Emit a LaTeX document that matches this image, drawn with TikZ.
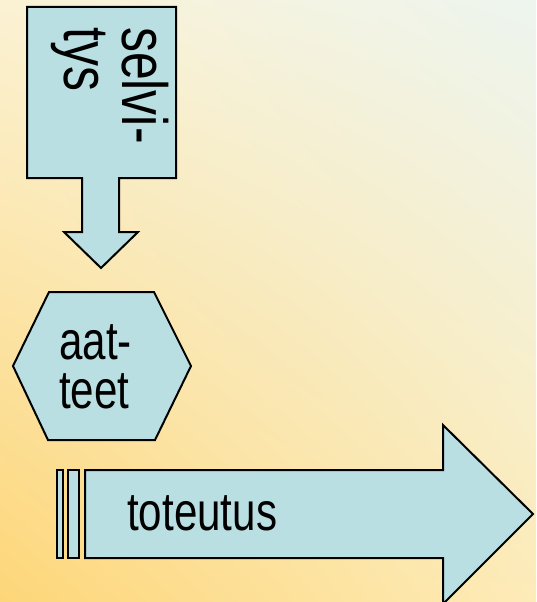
\documentclass[tikz,border=0pt]{standalone}
\usepackage{fontspec}
\newfontfamily\narrowsans[FakeStretch=0.78]{Liberation Sans}
\usetikzlibrary{positioning,shadings}
\definecolor{piecefill}{HTML}{B9DFE3}
\definecolor{cream}{HTML}{FBF2D4}
\definecolor{paleback}{HTML}{EDF5EF}
\definecolor{orangeback}{HTML}{FDD678}
\definecolor{lightorange}{HTML}{FDEBB8}

\begin{document}
\begin{tikzpicture}[
  x=1pt, y=-1pt,
  piece/.style={draw=black, line width=2pt, fill=piecefill, line join=miter},
  caption/.style={font=\narrowsans, inner sep=0pt, align=left}
]

\useasboundingbox (0,0) rectangle (536,602);
\shade[upper left=cream, upper right=paleback, lower left=orangeback, lower right=lightorange]
  (0,0) rectangle (536,602);

\draw[piece] (27,7) -- (176,7) -- (176,178) -- (119,178) -- (119,232) -- (138,232)
  -- (101,268) -- (64,232) -- (82,232) -- (82,178) -- (27,178) -- cycle;
\node[caption, rotate=-90, anchor=north west,
  font=\narrowsans\fontsize{64}{58}\selectfont] (selvitys) at (169,27) {selvi-\\tys};

\draw[piece] (13,366) -- (49,292) -- (154,292) -- (191,366) -- (155,440) -- (48,440) -- cycle;
\node[caption, anchor=north west,
  font=\narrowsans\fontsize{54}{49}\selectfont] (aatteet) at (59,324) {aat-\\teet};

\draw[piece] (57,470) rectangle (63,558);
\draw[piece] (68,470) rectangle (79,558);
\draw[piece] (85,470) -- (443,470) -- (443,425) -- (533,514) -- (443,604)
  -- (443,558) -- (85,558) -- cycle;
\node[caption, anchor=base west,
  font=\narrowsans\fontsize{54}{49}\selectfont] (toteutus) at (127,530) {toteutus};

\end{tikzpicture}
\end{document}
